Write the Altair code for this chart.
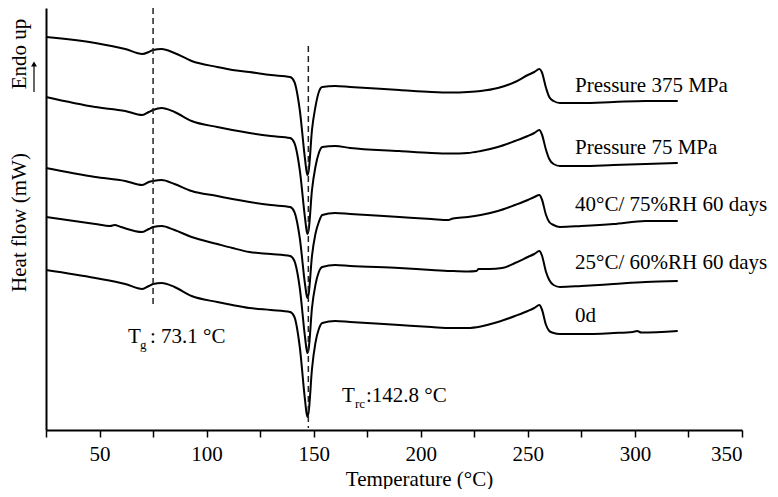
import altair as alt
import pandas as pd

FONT = "Liberation Serif"

series = ["Pressure 375 MPa", "Pressure 75 MPa", "40°C/ 75%RH 60 days",
          "25°C/ 60%RH 60 days", "0d"]

# Temperature (°C) and heat flow (arbitrary units, endo up)
temp_1 = [25, 48, 62, 70, 73, 75, 79, 85, 93, 105, 112, 120, 130, 139, 141, 143.5, 146, 147, 147.7, 149.2,
          150.8, 152.4, 154, 160, 167, 190, 205, 214, 222, 228, 236, 244, 250, 253, 255.4, 256.5, 258.5, 260, 262, 265,
          275, 290, 305, 320]
flow_1 = [-37, -43, -49, -54, -52, -50, -49, -53, -61, -67, -70, -72, -75, -77, -82, -110, -160, -175, -170, -130,
          -107, -92, -87, -86, -87, -90, -92, -92.5, -92, -91, -88, -82, -75, -72, -69, -72, -88, -97, -101, -103,
          -103, -102, -101, -101]

temp_2 = [25, 48, 62, 70, 73, 75, 79, 85, 93, 105, 112, 120, 130, 139, 141, 143.5, 146, 147, 147.7, 149.2,
          150.8, 152.4, 154, 160, 167, 190, 205, 214, 222, 228, 236, 244, 250, 253, 255.4, 256.5, 258.5, 260, 262, 265,
          275, 290, 305, 320]
flow_2 = [-97, -107, -111, -115, -112, -110, -108, -112, -121, -127, -130, -133, -136, -138, -143, -170, -219, -234, -229, -190,
          -167, -153, -147, -146, -148, -151, -153, -153.5, -153, -151, -147, -141, -136, -133, -130, -134, -150, -159, -164, -166,
          -166, -165, -164, -163]

temp_3 = [25, 48, 62, 70, 73, 75, 79, 85, 93, 105, 112, 120, 130, 139, 141, 143.5, 146, 147, 147.7, 149.2,
          150.8, 152.4, 154, 160, 167, 190, 205, 213, 215, 222, 228, 236, 244, 250, 253, 255.4, 256.5, 258.5, 260, 262, 265,
          275, 290, 305, 320]
flow_3 = [-168, -177, -181, -185, -182, -181, -180, -184, -191, -196, -199, -202, -205, -207, -212, -238, -285, -298, -293, -256,
          -234, -222, -215, -213, -214, -217, -219, -220, -218.5, -217, -215, -211, -205, -200, -197, -195, -199, -215, -222, -225, -227,
          -226, -224, -221, -221]

temp_4 = [25, 48, 55, 57, 60, 70, 73, 75, 79, 85, 93, 105, 112, 120, 130, 139, 141, 143.5, 146, 147, 147.7, 149.2,
          150.8, 152.4, 154, 160, 167, 190, 205, 214, 222, 226, 227, 232, 238, 244, 250, 253, 255.4, 256.5, 258.5, 260, 262, 265,
          275, 290, 305, 320]
flow_4 = [-217, -224, -226, -225, -227, -232, -229, -227, -226, -230, -237, -244, -248, -252, -254, -256, -261, -288, -338, -353, -348, -308,
          -285, -272, -267, -265, -266, -268, -270, -271, -271.5, -271, -269, -269, -268, -263, -257, -254, -251, -255, -272, -280, -285, -287,
          -286, -284, -282, -281]

temp_5 = [25, 48, 62, 70, 73, 75, 79, 85, 93, 105, 112, 120, 130, 139, 141, 143.5, 146, 147, 147.7, 149.2,
          150.8, 152.4, 154, 160, 167, 190, 205, 214, 222, 228, 236, 244, 250, 253, 255.4, 256.5, 258.5, 260, 262, 265,
          275, 290, 299, 301, 303, 320]
flow_5 = [-270, -278, -284, -289, -286, -284, -283, -287, -296, -302, -305, -308, -310, -312, -317, -347, -401, -417, -411, -369,
          -343, -329, -323, -321, -322, -325, -327, -328, -328, -326.5, -322, -316, -311, -308, -305, -309, -325, -331, -333, -334,
          -334, -333, -332, -331, -332.5, -331]

temps = [temp_1, temp_2, temp_3, temp_4, temp_5]
flows = [flow_1, flow_2, flow_3, flow_4, flow_5]

rows = []
for name, xs, ys in zip(series, temps, flows):
    for i, (a, b) in enumerate(zip(xs, ys)):
        rows.append({"series": name, "T": a, "HF": b, "i": i})
df = pd.DataFrame(rows)

# Marker lines (Tg and Trc)
marker_T = [75, 147.5]
marker_top = [-8, -46]
marker_bottom = [-307, -428]
markers = pd.DataFrame({"T": marker_T, "HF": marker_top, "HF2": marker_bottom})

xscale = alt.Scale(domain=[25, 350], nice=False, zero=False)
yscale = alt.Scale(domain=[-430, -8], nice=False, zero=False)
XT = "Temperature (°C)"
YT = "Heat flow (mW)"

lines = alt.Chart(df).mark_line(color="black", strokeWidth=2, interpolate="monotone").encode(
    x=alt.X("T:Q", scale=xscale, title=XT,
            axis=alt.Axis(values=list(range(25, 351, 25)),
                          labelExpr="datum.value % 50 == 0 ? datum.label : ''",
                          grid=False, tickSize=7, tickWidth=1.5, tickColor="black",
                          domainColor="black", domainWidth=2,
                          labelFont=FONT, labelFontSize=21, labelColor="black", labelPadding=6,
                          titleFont=FONT, titleFontSize=21, titleFontWeight="normal", titleColor="black",
                          titleX=373, titleY=55, titleBaseline="alphabetic")),
    y=alt.Y("HF:Q", scale=yscale, title=YT,
            axis=alt.Axis(ticks=False, labels=False, grid=False,
                          domainColor="black", domainWidth=2,
                          titleFont=FONT, titleFontSize=21, titleFontWeight="normal", titleColor="black",
                          titleX=-21, titleY=214, titleAngle=270, titleBaseline="alphabetic",
                          titleAlign="center")),
    detail="series:N", order="i:Q")

rules = alt.Chart(markers).mark_rule(color="#222", strokeWidth=1.5, strokeDash=[6, 4]).encode(
    x=alt.X("T:Q", scale=xscale, title=XT),
    y=alt.Y("HF:Q", scale=yscale, title=YT),
    y2="HF2:Q")

one = pd.DataFrame({"a": [0]})

def txt(s, x, y, size=21, align="left"):
    return alt.Chart(one).mark_text(font=FONT, fontSize=size, color="black", align=align,
                                    baseline="alphabetic").encode(
        x=alt.value(x), y=alt.value(y), text=alt.value(s))

label_x = 529
label_y = [84, 146, 203, 261, 314]
layers = [lines, rules]
for s, yy in zip(series, label_y):
    layers.append(txt(s, label_x, yy))

layers += [
    txt("T", 82, 335), txt("g", 94, 341, size=13), txt(": 73.1 °C", 104, 335),
    txt("T", 296, 394), txt("rc", 309, 400, size=13), txt(":142.8 °C", 320, 394),
]

endo = alt.Chart(one).mark_text(font=FONT, fontSize=21, color="black", align="center",
                                baseline="alphabetic", angle=270).encode(
    x=alt.value(-20), y=alt.value(46), text=alt.value("Endo up"))
arrow_line = alt.Chart(one).mark_rule(color="black", strokeWidth=1.2).encode(
    x=alt.value(-12), y=alt.value(84), y2=alt.value(58))
arrow_head = alt.Chart(one).mark_point(shape="triangle-up", filled=True, color="black",
                                       size=35, opacity=1).encode(
    x=alt.value(-12), y=alt.value(56))
layers += [endo, arrow_line, arrow_head]

chart = alt.layer(*layers).properties(
    width=696, height=422,
    autosize=alt.AutoSizeParams(type="none"),
    padding={"left": 38, "top": 0, "right": 28, "bottom": 59},
).configure_view(stroke=None)

chart.save("out.html", embed_options={"renderer": "svg", "actions": False})
